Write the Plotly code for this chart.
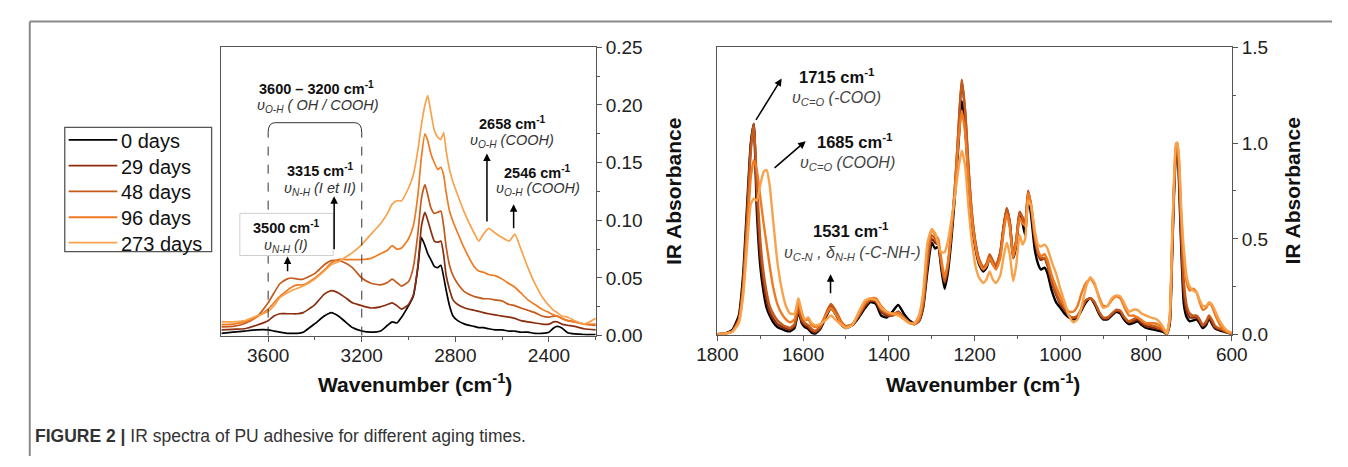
import plotly.graph_objects as go

W, H = 1348, 467

# ---------------- data ----------------
DAYS = ["0 days", "29 days", "48 days", "96 days", "273 days"]
COLORS = ["#000000", "#8B2E10", "#C45A1C", "#F07A22", "#F8A24C"]

# Left panel: 3800-2200 cm-1
WN_CH = [3800, 3750, 3700, 3650, 3600, 3575, 3550, 3520, 3500, 3475,
         3450, 3400, 3360, 3330, 3300, 3270, 3240, 3200, 3160, 3120,
         3090, 3070, 3050, 3030, 3000, 2980, 2960, 2945, 2930, 2918,
         2905, 2890, 2875, 2862, 2850, 2840, 2825, 2810, 2790, 2760,
         2720, 2700, 2680, 2658, 2630, 2600, 2570, 2546, 2520, 2490,
         2460, 2430, 2400, 2380, 2365, 2345, 2320, 2290, 2250, 2200]

CH_0 = [0.002, 0.003, 0.004, 0.005, 0.005, 0.004, 0.003, 0.002, 0.002, 0.002,
        0.003, 0.0105, 0.017, 0.020, 0.017, 0.012, 0.007, 0.004, 0.003, 0.004,
        0.009, 0.012, 0.011, 0.016, 0.026, 0.034, 0.059, 0.085, 0.078, 0.071,
        0.066, 0.060, 0.059, 0.061, 0.051, 0.040, 0.026, 0.017, 0.013, 0.010,
        0.008, 0.007, 0.007, 0.006, 0.005, 0.005, 0.004, 0.004, 0.003, 0.003,
        0.002, 0.002, 0.003, 0.0067, 0.008, 0.0067, 0.0025, 0.0015, 0.001, 0.001]

CH_29 = [0.005, 0.0055, 0.006, 0.009, 0.013, 0.017, 0.019, 0.019, 0.019, 0.019,
         0.020, 0.027, 0.036, 0.039, 0.037, 0.033, 0.0285, 0.026, 0.024, 0.025,
         0.027, 0.0285, 0.026, 0.023, 0.027, 0.035, 0.061, 0.095, 0.107, 0.100,
         0.091, 0.082, 0.081, 0.082, 0.070, 0.053, 0.040, 0.031, 0.027, 0.024,
         0.022, 0.021, 0.020, 0.019, 0.018, 0.017, 0.016, 0.015, 0.013, 0.012,
         0.011, 0.010, 0.010, 0.012, 0.012, 0.010, 0.009, 0.008, 0.006, 0.005]

CH_48 = [0.0077, 0.008, 0.0105, 0.016, 0.0285, 0.037, 0.045, 0.049, 0.050, 0.049,
         0.049, 0.054, 0.0615, 0.065, 0.065, 0.063, 0.059, 0.050, 0.0455, 0.044,
         0.046, 0.049, 0.046, 0.043, 0.047, 0.059, 0.089, 0.119, 0.131, 0.122,
         0.111, 0.106, 0.107, 0.108, 0.095, 0.078, 0.061, 0.052, 0.045, 0.038,
         0.034, 0.033, 0.032, 0.032, 0.031, 0.030, 0.027, 0.026, 0.024, 0.022,
         0.020, 0.017, 0.016, 0.017, 0.017, 0.015, 0.013, 0.012, 0.010, 0.009]

CH_96 = [0.0096, 0.010, 0.012, 0.016, 0.023, 0.0285, 0.034, 0.039, 0.042, 0.044,
         0.044, 0.050, 0.057, 0.063, 0.066, 0.066, 0.066, 0.066, 0.067, 0.071,
         0.074, 0.078, 0.075, 0.076, 0.084, 0.095, 0.122, 0.155, 0.175, 0.169,
         0.158, 0.150, 0.144, 0.146, 0.139, 0.125, 0.108, 0.099, 0.089, 0.075,
         0.060, 0.056, 0.055, 0.053, 0.052, 0.049, 0.045, 0.042, 0.037, 0.031,
         0.027, 0.023, 0.020, 0.018, 0.017, 0.015, 0.013, 0.012, 0.010, 0.010]

CH_273 = [0.012, 0.012, 0.013, 0.017, 0.021, 0.026, 0.033, 0.037, 0.039, 0.041,
          0.043, 0.049, 0.056, 0.0615, 0.064, 0.068, 0.072, 0.079, 0.088, 0.097,
          0.106, 0.114, 0.117, 0.117, 0.128, 0.139, 0.161, 0.183, 0.200, 0.208,
          0.194, 0.178, 0.172, 0.170, 0.176, 0.161, 0.144, 0.133, 0.122, 0.106,
          0.089, 0.082, 0.088, 0.093, 0.089, 0.085, 0.082, 0.088, 0.075, 0.059,
          0.045, 0.034, 0.026, 0.022, 0.020, 0.017, 0.016, 0.013, 0.010, 0.015]

# Right panel: 1800-600 cm-1
WN_FP = [1800, 1780, 1765, 1750, 1740, 1730, 1722, 1715, 1708, 1700,
         1692, 1685, 1678, 1670, 1660, 1650, 1640, 1630, 1620, 1611,
         1603, 1596, 1588, 1580, 1572, 1560, 1545, 1535, 1525, 1510,
         1500, 1485, 1470, 1455, 1443, 1430, 1418, 1405, 1392, 1378,
         1365, 1352, 1340, 1330, 1320, 1310, 1300, 1292, 1285, 1278,
         1270, 1262, 1254, 1246, 1238, 1230, 1222, 1214, 1206, 1198,
         1190, 1180, 1172, 1165, 1158, 1150, 1140, 1132, 1125, 1118,
         1110, 1103, 1095, 1088, 1082, 1075, 1068, 1060, 1052, 1045,
         1037, 1030, 1020, 1010, 1000, 990, 980, 970, 960, 950,
         940, 930, 920, 910, 900, 890, 880, 870, 860, 850,
         840, 830, 820, 810, 800, 790, 780, 770, 760, 752,
         745, 740, 735, 730, 727, 723, 718, 712, 705, 698,
         690, 682, 675, 668, 660, 653, 647, 640, 632, 625,
         617, 610, 600]

FP_0 = [0.003, 0.008, 0.025, 0.10, 0.31, 0.70, 1.00, 1.10, 0.65, 0.36,
        0.22, 0.14, 0.10, 0.066, 0.04, 0.03, 0.02, 0.018, 0.035, 0.12,
        0.06, 0.04, 0.03, 0.01, 0.005, 0.03, 0.10, 0.14, 0.11, 0.05,
        0.035, 0.05, 0.09, 0.14, 0.17, 0.16, 0.10, 0.09, 0.12, 0.155,
        0.11, 0.075, 0.06, 0.07, 0.14, 0.33, 0.48, 0.45, 0.46, 0.35,
        0.24, 0.33, 0.50, 0.72, 0.98, 1.22, 1.08, 0.80, 0.58, 0.45,
        0.37, 0.33, 0.35, 0.40, 0.37, 0.35, 0.42, 0.56, 0.65, 0.58,
        0.40, 0.46, 0.63, 0.58, 0.52, 0.72, 0.62, 0.45, 0.37, 0.34,
        0.35, 0.32, 0.23, 0.17, 0.14, 0.11, 0.09, 0.08, 0.09, 0.13,
        0.17, 0.19, 0.16, 0.11, 0.08, 0.08, 0.10, 0.12, 0.11, 0.075,
        0.055, 0.06, 0.07, 0.05, 0.035, 0.03, 0.025, 0.02, 0.015, 0.003,
        0.05, 0.35, 0.72, 0.96, 1.0, 0.78, 0.45, 0.16, 0.09, 0.07,
        0.075, 0.08, 0.06, 0.035, 0.05, 0.085, 0.06, 0.035, 0.025, 0.02,
        0.015, 0.01, 0.005]

FP_29 = [0.003, 0.007, 0.02, 0.085, 0.27, 0.65, 0.98, 1.10, 0.72, 0.42,
         0.27, 0.18, 0.12, 0.085, 0.055, 0.042, 0.032, 0.028, 0.045, 0.13,
         0.07, 0.05, 0.04, 0.02, 0.012, 0.035, 0.11, 0.15, 0.12, 0.06,
         0.04, 0.05, 0.10, 0.15, 0.18, 0.17, 0.12, 0.10, 0.10, 0.12,
         0.09, 0.065, 0.055, 0.07, 0.15, 0.36, 0.50, 0.48, 0.47, 0.37,
         0.27, 0.36, 0.54, 0.76, 1.05, 1.33, 1.16, 0.86, 0.62, 0.48,
         0.39, 0.35, 0.37, 0.41, 0.38, 0.36, 0.43, 0.57, 0.66, 0.59,
         0.42, 0.49, 0.64, 0.61, 0.58, 0.75, 0.66, 0.50, 0.42, 0.39,
         0.40, 0.36, 0.27, 0.21, 0.16, 0.13, 0.10, 0.085, 0.095, 0.135,
         0.18, 0.19, 0.165, 0.12, 0.085, 0.085, 0.105, 0.125, 0.12, 0.085,
         0.065, 0.07, 0.08, 0.06, 0.045, 0.04, 0.035, 0.03, 0.02, 0.005,
         0.06, 0.38, 0.75, 0.97, 1.0, 0.82, 0.50, 0.22, 0.12, 0.09,
         0.09, 0.09, 0.07, 0.045, 0.06, 0.09, 0.07, 0.04, 0.03, 0.025,
         0.02, 0.012, 0.005]

FP_48 = [0.003, 0.007, 0.018, 0.075, 0.25, 0.62, 0.96, 1.10, 0.80, 0.50,
         0.32, 0.22, 0.15, 0.11, 0.075, 0.055, 0.042, 0.036, 0.055, 0.14,
         0.08, 0.06, 0.05, 0.03, 0.02, 0.04, 0.12, 0.16, 0.13, 0.065,
         0.045, 0.055, 0.10, 0.16, 0.18, 0.18, 0.13, 0.11, 0.10, 0.11,
         0.09, 0.065, 0.055, 0.075, 0.16, 0.38, 0.52, 0.50, 0.48, 0.38,
         0.28, 0.37, 0.55, 0.77, 1.06, 1.33, 1.17, 0.87, 0.63, 0.48,
         0.40, 0.35, 0.37, 0.42, 0.39, 0.36, 0.43, 0.57, 0.66, 0.59,
         0.42, 0.49, 0.64, 0.61, 0.58, 0.75, 0.67, 0.52, 0.43, 0.40,
         0.40, 0.37, 0.28, 0.22, 0.17, 0.14, 0.10, 0.09, 0.10, 0.14,
         0.18, 0.19, 0.17, 0.12, 0.09, 0.09, 0.11, 0.13, 0.125, 0.09,
         0.07, 0.08, 0.09, 0.07, 0.055, 0.05, 0.045, 0.035, 0.025, 0.005,
         0.07, 0.40, 0.76, 0.98, 1.0, 0.85, 0.55, 0.28, 0.15, 0.11,
         0.10, 0.10, 0.08, 0.05, 0.07, 0.10, 0.08, 0.05, 0.035, 0.03,
         0.02, 0.012, 0.005]

FP_96 = [0.003, 0.006, 0.016, 0.07, 0.22, 0.55, 0.82, 0.91, 0.86, 0.72,
         0.58, 0.47, 0.36, 0.25, 0.16, 0.11, 0.08, 0.065, 0.08, 0.17,
         0.11, 0.075, 0.08, 0.05, 0.04, 0.05, 0.11, 0.14, 0.11, 0.06,
         0.04, 0.055, 0.11, 0.17, 0.19, 0.19, 0.15, 0.12, 0.11, 0.115,
         0.085, 0.06, 0.055, 0.08, 0.19, 0.44, 0.55, 0.52, 0.50, 0.40,
         0.30, 0.38, 0.55, 0.75, 1.00, 1.17, 1.05, 0.80, 0.60, 0.46,
         0.38, 0.34, 0.36, 0.40, 0.37, 0.34, 0.40, 0.54, 0.63, 0.56,
         0.40, 0.48, 0.61, 0.58, 0.57, 0.74, 0.68, 0.53, 0.44, 0.41,
         0.42, 0.39, 0.31, 0.25, 0.20, 0.15, 0.12, 0.12, 0.15, 0.22,
         0.27, 0.29, 0.26, 0.20, 0.15, 0.15, 0.18, 0.20, 0.19, 0.14,
         0.10, 0.10, 0.09, 0.075, 0.06, 0.06, 0.06, 0.05, 0.03, 0.005,
         0.08, 0.43, 0.78, 0.99, 1.0, 0.90, 0.62, 0.40, 0.27, 0.23,
         0.24, 0.22, 0.17, 0.13, 0.14, 0.165, 0.15, 0.11, 0.07, 0.04,
         0.025, 0.015, 0.008]

FP_273 = [0.003, 0.006, 0.015, 0.06, 0.20, 0.48, 0.68, 0.71, 0.70, 0.78,
          0.85, 0.86, 0.78, 0.60, 0.38, 0.24, 0.15, 0.11, 0.11, 0.19,
          0.12, 0.08, 0.09, 0.06, 0.05, 0.055, 0.08, 0.10, 0.08, 0.05,
          0.035, 0.05, 0.12, 0.18, 0.19, 0.18, 0.14, 0.12, 0.11, 0.10,
          0.08, 0.06, 0.06, 0.10, 0.22, 0.48, 0.55, 0.53, 0.47, 0.43,
          0.43, 0.49, 0.60, 0.72, 0.86, 0.96, 0.88, 0.66, 0.48, 0.36,
          0.30, 0.27, 0.29, 0.33, 0.29, 0.27, 0.31, 0.41, 0.48, 0.42,
          0.28, 0.36, 0.52, 0.47, 0.50, 0.70, 0.67, 0.55, 0.47, 0.46,
          0.47, 0.45, 0.38, 0.32, 0.24, 0.17, 0.10, 0.065, 0.08, 0.15,
          0.25, 0.30, 0.27, 0.19, 0.14, 0.15, 0.19, 0.205, 0.20, 0.16,
          0.12, 0.13, 0.13, 0.11, 0.10, 0.09, 0.085, 0.07, 0.04, 0.005,
          0.09, 0.45, 0.80, 1.0, 1.0, 0.92, 0.66, 0.45, 0.30, 0.25,
          0.23, 0.22, 0.18, 0.15, 0.15, 0.17, 0.16, 0.13, 0.09, 0.06,
          0.035, 0.02, 0.01]

LEFT_SERIES = [CH_0, CH_29, CH_48, CH_96, CH_273]
RIGHT_SERIES = [FP_0, FP_29, FP_48, FP_96, FP_273]
for s in LEFT_SERIES:
    assert len(s) == len(WN_CH)
for s in RIGHT_SERIES:
    assert len(s) == len(WN_FP)


def px(x):
    return x / W


def py(y):
    return 1 - y / H


FONT = "Liberation Sans, Arial, sans-serif"

fig = go.Figure()
for name, col, ys in zip(DAYS, COLORS, LEFT_SERIES):
    fig.add_trace(go.Scatter(x=WN_CH, y=ys, mode="lines", name=name, showlegend=False,
                             line=dict(color=col, width=1.7, shape="spline", smoothing=0.5),
                             xaxis="x", yaxis="y"))
for name, col, ys in zip(DAYS, COLORS, RIGHT_SERIES):
    fig.add_trace(go.Scatter(x=WN_FP, y=ys, mode="lines", name=name, showlegend=False,
                             line=dict(color=col, width=2.4, shape="spline", smoothing=0.5),
                             xaxis="x2", yaxis="y2"))

AX_COMMON = dict(showline=True, linecolor="#555", linewidth=1.2, mirror=True,
                 ticks="outside", ticklen=5, tickcolor="#555", tickwidth=1.2,
                 showgrid=False, zeroline=False,
                 tickfont=dict(family=FONT, size=19, color="#222"))

fig.update_layout(
    width=W, height=H,
    margin=dict(l=0, r=0, t=0, b=0),
    paper_bgcolor="white", plot_bgcolor="white",
    font=dict(family=FONT, color="#222"),
    showlegend=False,
    xaxis=dict(domain=[px(206), px(591)], range=[3800, 2200], anchor="y",
               tickvals=[3600, 3200, 2800, 2400], ticklabelstandoff=-3,
               minor=dict(ticks="outside", ticklen=3, tickvals=[3400, 3000, 2600, 2200],
                          tickcolor="#555"),
               **AX_COMMON),
    yaxis=dict(domain=[py(341), py(39)], range=[0, 0.25], anchor="x", side="right",
               dtick=0.05, tick0=0, tickformat=".2f",
               minor=dict(ticks="outside", ticklen=3, dtick=0.025, tickcolor="#555"),
               **AX_COMMON),
    xaxis2=dict(domain=[px(716), px(1245)], range=[1800, 600], anchor="y2",
                dtick=200, tick0=600, ticklabelstandoff=-3,
                minor=dict(ticks="outside", ticklen=3, dtick=100, tickcolor="#555"),
                **AX_COMMON),
    yaxis2=dict(domain=[py(340), py(39)], range=[0, 1.5], anchor="x2", side="right",
                dtick=0.5, tick0=0, tickformat=".1f",
                minor=dict(ticks="outside", ticklen=3, dtick=0.25, tickcolor="#555"),
                **AX_COMMON),
)

shapes = []
# outer figure frame
shapes.append(dict(type="line", xref="paper", yref="paper", x0=px(9), x1=1, y0=py(12), y1=py(12),
                   line=dict(color="#8a8a8a", width=2)))
shapes.append(dict(type="line", xref="paper", yref="paper", x0=px(9), x1=px(9), y0=py(12), y1=0,
                   line=dict(color="#8a8a8a", width=2)))
# bracket 3600-3200
shapes.append(dict(type="path", xref="x", yref="y",
                   path="M 3600,0.176 Q 3600,0.1846 3570,0.1846 L 3230,0.1846 Q 3200,0.1846 3200,0.176",
                   line=dict(color="#333", width=1)))
for xv in (3600, 3200):
    shapes.append(dict(type="line", xref="x", yref="y", x0=xv, x1=xv, y0=0, y1=0.176,
                       line=dict(color="#333", width=1, dash="dash")))
# white box behind 3500 label
shapes.append(dict(type="rect", xref="x", yref="y", x0=3721, x1=3322, y0=0.0695, y1=0.106,
                   fillcolor="white", line=dict(color="#cfcfcf", width=1), layer="above"))

# legend (box, line samples)
LEG_L, LEG_R, LEG_T, LEG_B = 45, 196, 123, 253
LEG_Y = [136, 163, 190, 217, 243.5]
shapes.append(dict(type="rect", xref="paper", yref="paper",
                   x0=px(LEG_L), x1=px(LEG_R), y0=py(LEG_B), y1=py(LEG_T),
                   fillcolor="white", line=dict(color="#555", width=1.3)))
for col, yy in zip(COLORS, LEG_Y):
    shapes.append(dict(type="line", xref="paper", yref="paper",
                       x0=px(49), x1=px(99), y0=py(yy), y1=py(yy),
                       line=dict(color=col, width=1.8)))
fig.update_layout(shapes=shapes)

ann = []
for name, yy in zip(DAYS, LEG_Y):
    ann.append(dict(x=px(101), y=py(yy + 1), xref="paper", yref="paper", text=name,
                    showarrow=False, xanchor="left", yanchor="middle",
                    font=dict(family=FONT, size=20, color="#111")))


def label(x, y, text, xr, yr, size, color="#111"):
    ann.append(dict(x=x, y=y, xref=xr, yref=yr, text=text, showarrow=False,
                    xanchor="center", yanchor="middle",
                    font=dict(family=FONT, size=size, color=color)))


def arrow(x0, y0, x1, y1, xr, yr, w=1.5):
    ann.append(dict(x=x1, y=y1, ax=x0, ay=y0, xref=xr, yref=yr, axref=xr, ayref=yr,
                    text="", showarrow=True, arrowhead=2, arrowsize=1.0,
                    arrowwidth=w, arrowcolor="#000", standoff=0, startstandoff=0))


# left panel annotations
LB, LI = 14.5, 14.5
label(3395, 0.2147, "<b>3600 – 3200 cm<sup>-1</sup></b>", "x", "y", LB)
label(3389, 0.1995, "<i>υ<sub>O-H</sub> ( OH / COOH)</i>", "x", "y", LI, "#333")
label(3376, 0.1440, "<b>3315 cm<sup>-1</sup></b>", "x", "y", LB)
label(3380, 0.1275, "<i>υ<sub>N-H</sub> (I et II)</i>", "x", "y", LI, "#333")
label(3522, 0.0944, "<b>3500 cm<sup>-1</sup></b>", "x", "y", LB)
label(3522, 0.0778, "<i>υ<sub>N-H</sub> (I)</i>", "x", "y", LI, "#333")
label(2557, 0.1846, "<b>2658 cm<sup>-1</sup></b>", "x", "y", LB)
label(2557, 0.1689, "<i>υ<sub>O-H</sub> (COOH)</i>", "x", "y", LI, "#333")
label(2449, 0.1416, "<b>2546 cm<sup>-1</sup></b>", "x", "y", LB)
label(2449, 0.1267, "<i>υ<sub>O-H</sub> (COOH)</i>", "x", "y", LI, "#333")
arrow(3318, 0.0737, 3318, 0.1209, "x", "y")
arrow(3517, 0.0546, 3517, 0.0687, "x", "y")
arrow(2665, 0.0977, 2665, 0.158, "x", "y")
arrow(2551, 0.0919, 2551, 0.114, "x", "y")

# right panel annotations
RB, RI = 16.5, 16
label(1521, 1.350, "<b>1715 cm<sup>-1</sup></b>", "x2", "y2", RB)
label(1522, 1.232, "<i>υ<sub>C=O</sub> (-COO)</i>", "x2", "y2", RI, "#444")
label(1479, 1.010, "<b>1685 cm<sup>-1</sup></b>", "x2", "y2", RB)
label(1496, 0.892, "<i>υ<sub>C=O</sub> (COOH)</i>", "x2", "y2", RI, "#444")
label(1489, 0.545, "<b>1531 cm<sup>-1</sup></b>", "x2", "y2", RB)
label(1485, 0.425, "<i>υ<sub>C-N</sub> , δ<sub>N-H</sub> (-C-NH-)</i>", "x2", "y2", RI, "#444")
arrow(1712, 1.113, 1650, 1.337, "x2", "y2")
arrow(1670, 0.8635, 1594, 1.0099, "x2", "y2")
arrow(1536, 0.208, 1536, 0.315, "x2", "y2")

# axis titles
for xc in (405, 989):
    ann.append(dict(x=px(xc), y=py(391), xref="paper", yref="paper", showarrow=False,
                    text="<b>Wavenumber (cm<sup>-1</sup>)</b>", xanchor="center", yanchor="middle",
                    font=dict(family=FONT, size=21, color="#111")))
for xc in (671, 1307):
    ann.append(dict(x=px(xc), y=py(190), xref="paper", yref="paper", showarrow=False,
                    text="<b>IR Absorbance</b>", textangle=-90, xanchor="center", yanchor="middle",
                    font=dict(family=FONT, size=21, color="#111")))

# caption
ann.append(dict(x=px(12), y=py(446), xref="paper", yref="paper", showarrow=False,
                text="<b>FIGURE 2 |</b> IR spectra of PU adhesive for different aging times.",
                xanchor="left", yanchor="middle",
                font=dict(family=FONT, size=17.5, color="#333")))

fig.update_layout(annotations=ann)

fig.write_html("out.html",
               config={"displayModeBar": False},
               post_script="document.body.style.margin='0';document.body.style.overflow='hidden';")
